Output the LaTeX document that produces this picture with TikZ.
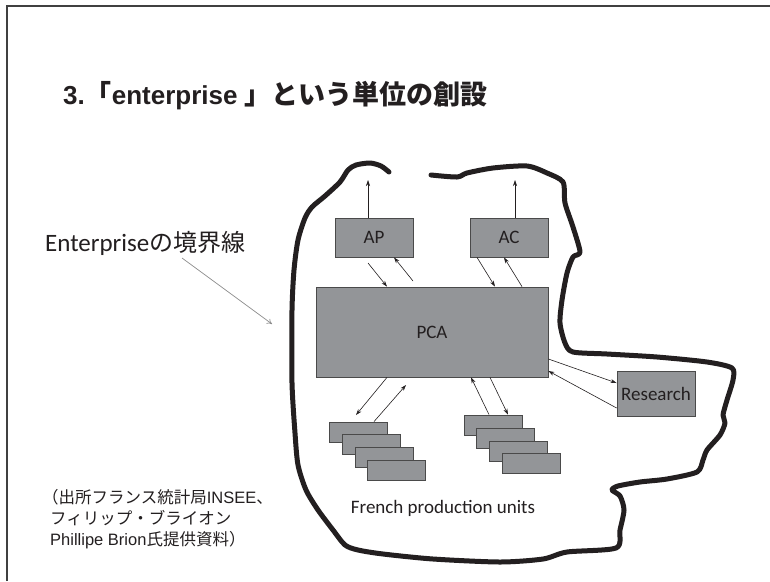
\documentclass[tikz,border=0pt]{standalone}
\usepackage{fontspec}
\setmainfont{Liberation Sans}
\newfontfamily\cjk{Noto Sans CJK JP}
\newfontfamily\calfont{Carlito}
\usetikzlibrary{arrows.meta}
\definecolor{boxgray}{HTML}{939598}
\definecolor{boxedge}{HTML}{4A4A4A}
\definecolor{inkc}{HTML}{231F20}
\tikzset{
  unitbox/.style={draw=boxedge, line width=0.8pt, fill=boxgray, inner sep=0pt, font=\calfont\fontsize{19}{21}\selectfont, text=inkc},
  prodbox/.style={unitbox, minimum width=58pt, minimum height=20pt},
  flow/.style={draw=inkc, line width=0.6pt, -{Stealth[length=6pt,width=4pt]}},
  border/.style={line width=5pt, line join=round, line cap=round, draw=inkc},
  frameline/.style={draw=black!75, line width=1.6pt},
}
\begin{document}
\begin{tikzpicture}[x=1pt,y=-1pt]
\useasboundingbox (0,0) rectangle (770,581);
\fill[white] (0,0) rectangle (770,581);
\draw[frameline] (7,581) -- (7,6) -- (770,6);

% title
\node[anchor=west, inner sep=0pt, font=\bfseries\fontsize{26}{30}\selectfont, text=inkc] (title) at (63,96)
  {3.{\cjk\bfseries\fontsize{27}{30}\selectfont「}enterprise {\cjk\bfseries\fontsize{27}{30}\selectfont 」という単位の創設}};

% boundary label
\node[anchor=west, inner sep=0pt, font=\fontsize{25}{28}\selectfont, text=inkc] (blabel) at (45,243)
  {{\calfont Enterprise}{\cjk\fontsize{24}{28}\selectfont の境界線}};
\coordinate (bpoint) at (272,324);
\draw[draw=black!45, line width=0.7pt, -{To[length=5pt,width=6pt]}] (182,258) -- (bpoint);

% enterprise boundary
\draw[border] plot[smooth, tension=0.45] coordinates {
(389,172) (381,166) (370,163) (356,165) (348,170) (340,182) (325,196) (312,207) (305,218)
(298,240) (294,270) (292,310) (292,383) (295,433) (298,465) (306,490) (318,510) (333,530)
(345,545) (358,550) (383,554) (433,559) (500,562) (543,559) (567,552) (616,548)
(620,530) (624,510) (620,496) (612,490) (618,486) (640,482) (667,479) (697,472) (703,460)
(707,450) (720,435) (725,423) (723,415) (727,400) (733,380) (732,368) (707,362) (657,357)
(607,354) (573,352) (565,343) (560,323) (562,300) (567,273) (573,257) (580,252) (573,227)
(565,203) (563,182) (547,173) (527,166) (493,168) (467,173) (457,177) (431,175)};

% boxes
\node[unitbox, minimum width=78pt, minimum height=39pt] (AP) at (374,237.5) {AP};
\node[unitbox, minimum width=78pt, minimum height=39pt] (AC) at (509,237.5) {AC};
\node[unitbox, minimum width=232pt, minimum height=90pt] (PCA) at (432,332) {PCA};
\node[unitbox, minimum width=78pt, minimum height=45pt] (Research) at (656,393.5) {Research};

\node[prodbox] (L1) at (358,432) {};
\node[prodbox] (L2) at (371,444.5) {};
\node[prodbox] (L3) at (384,457) {};
\node[prodbox] (L4) at (396.5,470) {};
\node[prodbox] (R1) at (493,425) {};
\node[prodbox] (R2) at (505.5,438) {};
\node[prodbox] (R3) at (518,451) {};
\node[prodbox] (R4) at (531,463.5) {};

% free ends
\coordinate (apOut) at (368,180);
\coordinate (acOut) at (515,180);
\coordinate (a1) at (368,263);
\coordinate (a2) at (413,281);
\coordinate (b1) at (356,415);
\coordinate (b2) at (406,385);

% connectors
\draw[flow] ([xshift=-6pt]AP.north) -- (apOut);
\draw[flow] ([xshift=6pt]AC.north) -- (acOut);
\draw[flow] (a1) -- ([xshift=-45pt]PCA.north);
\draw[flow] (a2) -- ([xshift=20pt]AP.south);
\draw[flow] ([xshift=-32pt]AC.south) -- ([xshift=63pt]PCA.north);
\draw[flow] ([xshift=90pt]PCA.north) -- ([xshift=-5pt]AC.south);
\draw[flow] ([yshift=-27pt]PCA.east) -- ([yshift=10.5pt]Research.west);
\draw[flow] ([yshift=-14.5pt]Research.west) -- ([yshift=-39pt]PCA.east);
\draw[flow] ([xshift=-45pt]PCA.south) -- (b1);
\draw[flow] ([xshift=16pt]L1.north) -- (b2);
\draw[flow] ([xshift=-4pt]R1.north) -- ([xshift=39pt]PCA.south);
\draw[flow] ([xshift=58pt]PCA.south) -- ([xshift=15pt]R1.north);

% captions
\node[inner sep=0pt, font=\calfont\fontsize{19}{21}\selectfont, text=inkc] (fpu) at (443,508) {French production units};
\node[anchor=north west, inner sep=0pt, align=left, font=\fontsize{16.5}{21}\selectfont, text=inkc] (source) at (50,489)
  {\hspace*{-8pt}{\cjk（出所フランス統計局}INSEE{\cjk 、}\\
   {\cjk フィリップ・ブライオン}\\
   Phillipe Brion{\cjk 氏提供資料）}};
\end{tikzpicture}
\end{document}
